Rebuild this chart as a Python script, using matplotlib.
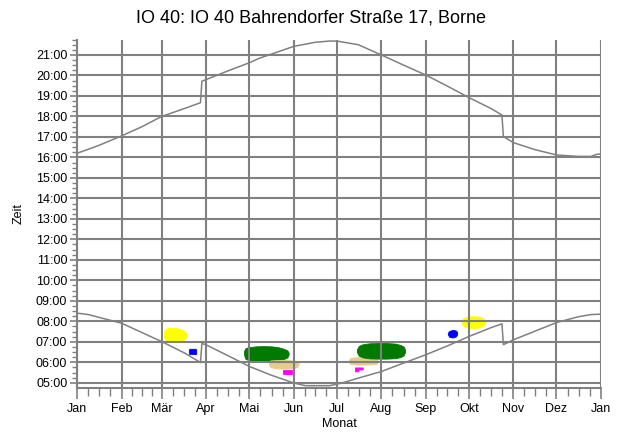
import matplotlib
matplotlib.use("Agg")
import matplotlib.pyplot as plt
from matplotlib.ticker import FixedLocator, FuncFormatter, MultipleLocator

plt.rcParams['font.family'] = ['Liberation Sans', 'DejaVu Sans']

# Month boundaries (day of year, Jan 1 = 0) and their labels
month_starts = [0, 31, 59, 90, 120, 151, 181, 212, 243, 273, 304, 334, 365]
month_labels = ["Jan", "Feb", "Mär", "Apr", "Mai", "Jun", "Jul", "Aug",
                "Sep", "Okt", "Nov", "Dez", "Jan"]

# Sunset (local clock time, hours)
sunset_days = [0, 15, 31, 45, 59, 75, 86, 87, 90, 105, 120, 127, 151, 166,
               176, 181, 196, 212, 227, 243, 258, 273, 288, 296, 297, 304,
               319, 334, 349, 358, 362, 365]
sunset_hours = [16.20, 16.58, 17.05, 17.49, 18.00, 18.39, 18.67, 19.72, 19.80,
                20.22, 20.62, 20.84, 21.42, 21.62, 21.68, 21.68, 21.50, 21.00,
                20.52, 20.02, 19.48, 18.92, 18.40, 18.07, 17.02, 16.72, 16.38,
                16.12, 16.05, 16.05, 16.15, 16.17]

# Sunrise (local clock time, hours)
sunrise_days = [0, 8, 15, 31, 45, 59, 75, 86, 87, 90, 105, 120, 135, 151, 159,
                176, 184, 196, 212, 227, 243, 258, 273, 288, 296, 297, 304, 319,
                334, 349, 358, 365]
sunrise_hours = [8.40, 8.33, 8.20, 7.91, 7.46, 7.01, 6.45, 5.99, 6.92, 6.85,
                 6.33, 5.80, 5.38, 4.99, 4.86, 4.86, 4.98, 5.23, 5.55, 5.95,
                 6.37, 6.80, 7.26, 7.68, 7.88, 6.86, 7.10, 7.52, 7.94, 8.22,
                 8.33, 8.35]

# Shadow periods: day of year, start time and end time per receptor area
yellow_mar_days = [60.5, 61.2, 62.5, 66, 70, 73, 75, 76.2]
yellow_mar_start = [7.28, 7.12, 7.07, 7.05, 7.05, 7.07, 7.12, 7.26]
yellow_mar_end = [7.44, 7.60, 7.66, 7.68, 7.66, 7.60, 7.52, 7.40]

blue_mar_days = [78, 78.4, 82.6, 83]
blue_mar_start = [6.42, 6.40, 6.40, 6.42]
blue_mar_end = [6.64, 6.66, 6.66, 6.62]

green_may_days = [116.3, 117.2, 119.5, 125, 130, 135, 140, 144, 146.5, 147.4]
green_may_start = [6.40, 6.18, 6.10, 6.08, 6.08, 6.09, 6.11, 6.16, 6.24, 6.38]
green_may_end = [6.54, 6.68, 6.74, 6.78, 6.79, 6.78, 6.74, 6.66, 6.58, 6.48]

tan_jun_days = [133.7, 134.7, 140, 145, 150, 153, 154.3]
tan_jun_start = [5.92, 5.76, 5.70, 5.69, 5.71, 5.76, 5.88]
tan_jun_end = [6.02, 6.09, 6.11, 6.11, 6.09, 6.06, 5.98]

magenta_jun_days = [143.5, 150]
magenta_jun_start = [5.43, 5.43]
magenta_jun_end = [5.60, 5.60]

tan_jul_days = [189.5, 190.4, 195, 200, 205, 208.5, 209.3]
tan_jul_start = [6.00, 5.92, 5.89, 5.89, 5.90, 5.92, 6.00]
tan_jul_end = [6.12, 6.21, 6.25, 6.25, 6.24, 6.21, 6.14]

magenta_jul_days = [193.6, 196, 196.1, 199]
magenta_jul_start = [5.56, 5.56, 5.65, 5.65]
magenta_jul_end = [5.75, 5.75, 5.75, 5.75]

green_aug_days = [195, 196.3, 199, 204, 210, 216, 222, 225.5, 227.6, 228.5]
green_aug_start = [6.50, 6.32, 6.24, 6.19, 6.18, 6.18, 6.20, 6.26, 6.34, 6.50]
green_aug_end = [6.64, 6.80, 6.88, 6.93, 6.94, 6.94, 6.91, 6.84, 6.76, 6.62]

blue_sep_days = [258.3, 259.3, 261.5, 263.7, 264.8]
blue_sep_start = [7.36, 7.24, 7.21, 7.25, 7.36]
blue_sep_end = [7.44, 7.53, 7.58, 7.56, 7.48]

yellow_oct_days = [267.8, 269.2, 272, 276, 280, 282.8, 284.3]
yellow_oct_start = [7.92, 7.77, 7.70, 7.67, 7.70, 7.77, 7.92]
yellow_oct_end = [8.04, 8.17, 8.23, 8.25, 8.23, 8.17, 8.04]

shadow_periods = [
    (yellow_mar_days, yellow_mar_start, yellow_mar_end, "#ffff00"),
    (blue_mar_days, blue_mar_start, blue_mar_end, "#0000ff"),
    (green_may_days, green_may_start, green_may_end, "#007a00"),
    (tan_jun_days, tan_jun_start, tan_jun_end, "#e2cc8e"),
    (magenta_jun_days, magenta_jun_start, magenta_jun_end, "#ff00ff"),
    (tan_jul_days, tan_jul_start, tan_jul_end, "#e2cc8e"),
    (magenta_jul_days, magenta_jul_start, magenta_jul_end, "#ff00ff"),
    (green_aug_days, green_aug_start, green_aug_end, "#007a00"),
    (blue_sep_days, blue_sep_start, blue_sep_end, "#0000ff"),
    (yellow_oct_days, yellow_oct_start, yellow_oct_end, "#ffff00"),
]

GRAY = "#808080"

fig = plt.figure(figsize=(6.21, 4.32), dpi=100)
ax = fig.add_axes([0.124, 0.103, 0.8438, 0.8053])

for days, start, end, color in shadow_periods:
    ax.fill_between(days, start, end, color=color, linewidth=0.6,
                    edgecolor=color, zorder=1)

ax.plot(sunset_days, sunset_hours, color=GRAY, lw=1.1, zorder=3)
ax.plot(sunrise_days, sunrise_hours, color=GRAY, lw=1.1, zorder=3)

ax.set_xlim(0, 365)
ax.set_ylim(4.77, 21.75)

# Month grid and ticks
ax.xaxis.set_major_locator(FixedLocator(month_starts))
ax.set_xticklabels(month_labels)
minor_x = []
for a, b in zip(month_starts[:-1], month_starts[1:]):
    minor_x += [a + (b - a) * k / 4 for k in (1, 2, 3)]
ax.xaxis.set_minor_locator(FixedLocator(minor_x))

# Hour grid and ticks
ax.yaxis.set_major_locator(FixedLocator(list(range(5, 22))))
ax.yaxis.set_minor_locator(MultipleLocator(0.25))
ax.yaxis.set_major_formatter(FuncFormatter(lambda v, p: f"{int(round(v)):02d}:00"))

ax.set_axisbelow(False)
ax.grid(True, which="major", color=GRAY, lw=1.5)

for side in ("top", "right"):
    ax.spines[side].set_visible(False)
for side in ("left", "bottom"):
    ax.spines[side].set_color(GRAY)
    ax.spines[side].set_linewidth(1.5)

ax.tick_params(axis="x", which="major", length=8, width=1.2, color=GRAY,
               labelsize=9, pad=3)
ax.tick_params(axis="x", which="minor", length=5.5, width=1.0, color=GRAY)
ax.tick_params(axis="y", which="major", length=5, width=1.2, color=GRAY,
               labelsize=9, pad=2)
ax.tick_params(axis="y", which="minor", length=3.5, width=1.0, color=GRAY)

ax.set_xlabel("Monat", fontsize=9, labelpad=2)
ax.set_ylabel("Zeit", fontsize=9, labelpad=8)
fig.suptitle("IO 40: IO 40 Bahrendorfer Straße 17, Borne", fontsize=13,
             x=0.5, y=0.978)

fig.savefig("out.png", dpi=100)
